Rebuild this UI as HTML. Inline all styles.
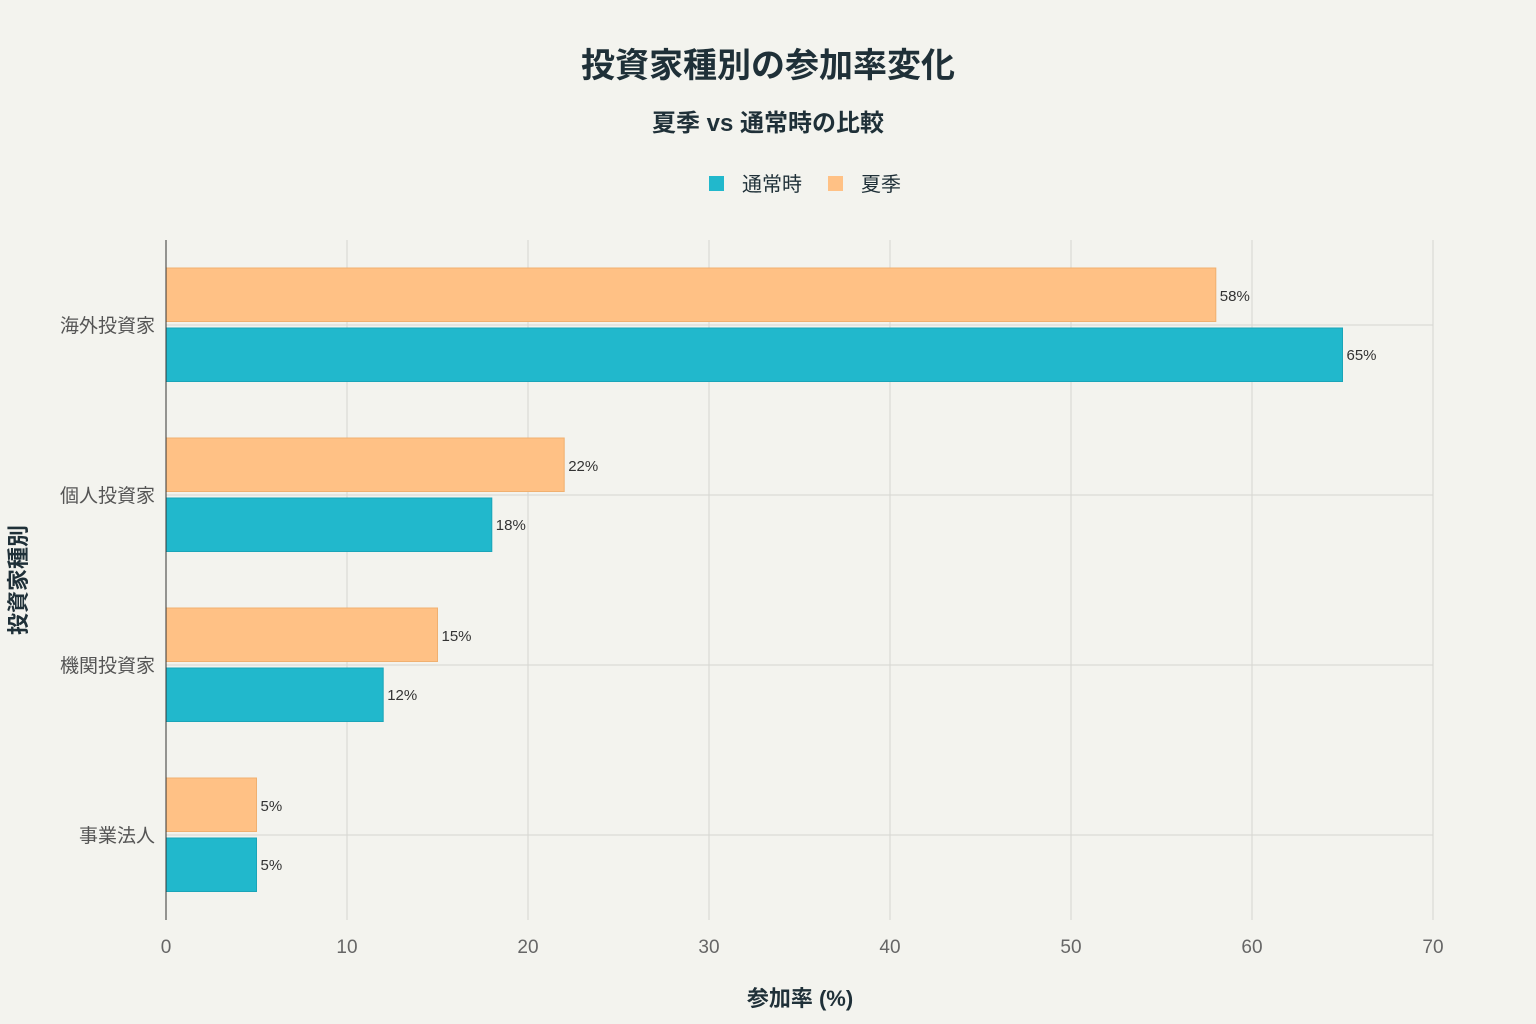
<!DOCTYPE html>
<html><head><meta charset="utf-8"><style>
body{margin:0;background:#f3f3ee;}
svg{display:block;font-family:"Liberation Sans","Noto Sans CJK JP",sans-serif;}
</style></head><body>
<svg id="c" width="1536" height="1024" xmlns="http://www.w3.org/2000/svg">
<rect width="1536" height="1024" fill="#f3f3ee"/>
<text x="768" y="77" text-anchor="middle" font-size="34" font-weight="bold" fill="#1f3038">投資家種別の参加率変化</text>
<text x="768" y="131" text-anchor="middle" font-size="24" font-weight="bold" fill="#1f3038">夏季 vs 通常時の比較</text>
<g>
<rect x="709" y="176" width="15" height="15" fill="#21b8cc"/>
<text x="742" y="191" font-size="20" fill="#1f3038">通常時</text>
<rect x="828" y="176" width="15" height="15" fill="#ffc185"/>
<text x="861" y="191" font-size="20" fill="#1f3038">夏季</text>
</g>
<g id="grid"></g>
<g id="bars"></g>
<line x1="166" y1="240" x2="166" y2="920" stroke="#333" stroke-width="1"/>
<text x="800" y="1006" text-anchor="middle" font-size="22" font-weight="bold" fill="#1f3038">参加率 (%)</text>
<text transform="translate(26,580) rotate(-90)" text-anchor="middle" font-size="22" font-weight="bold" fill="#1f3038">投資家種別</text>
</svg>
<script>
const categories=["海外投資家","個人投資家","機関投資家","事業法人"];
const normalValues=[65,18,12,5];
const summerValues=[58,22,15,5];
const xTicks=[0,10,20,30,40,50,60,70];
const SVGNS="http://www.w3.org/2000/svg";
const plotX0=166,plotX1=1433,xMax=70,yTop=240,yBottom=920;
const band=(yBottom-yTop)/categories.length;
const xs=v=>plotX0+(v/xMax)*(plotX1-plotX0);
const yc=i=>yTop+band*i+band/2;
function mk(t,a,p){const e=document.createElementNS(SVGNS,t);for(const k in a)e.setAttribute(k,a[k]);p.appendChild(e);return e;}
const gridG=document.getElementById('grid'),barsG=document.getElementById('bars');
xTicks.forEach(t=>{
  if(t>0){const l=mk('line',{x1:xs(t),x2:xs(t),y1:yTop,y2:yBottom,stroke:'#d6d6d0','stroke-width':1},gridG);
  
  }
  const tx=mk('text',{x:xs(t),y:953,'text-anchor':'middle','font-size':19,fill:'#666'},gridG);tx.textContent=t;
  
  
});
categories.forEach((c,i)=>{
  const y=yc(i);
  const l=mk('line',{x1:plotX0,x2:plotX1,y1:y,y2:y,stroke:'#d6d6d0','stroke-width':1},gridG);
  
  
  const t=mk('text',{x:155,y:y+7,'text-anchor':'end','font-size':19,fill:'#555'},gridG);t.textContent=c;
  
  
  const h=53.5;
  const s=mk('rect',{x:plotX0,y:y-57,width:xs(summerValues[i])-plotX0,height:h,fill:'#ffc185',stroke:'#f0b070','stroke-width':1},barsG);
  
  
  const n=mk('rect',{x:plotX0,y:y+3,width:xs(normalValues[i])-plotX0,height:h,fill:'#21b8cc',stroke:'#1aa5b8','stroke-width':1},barsG);
  
  
  const ls=mk('text',{x:xs(summerValues[i])+4,y:y-24,'font-size':15,fill:'#333'},barsG);ls.textContent=summerValues[i]+'%';
  
  
  const ln=mk('text',{x:xs(normalValues[i])+4,y:y+35,'font-size':15,fill:'#333'},barsG);ln.textContent=normalValues[i]+'%';
  
  
});
</script>
</body></html>
